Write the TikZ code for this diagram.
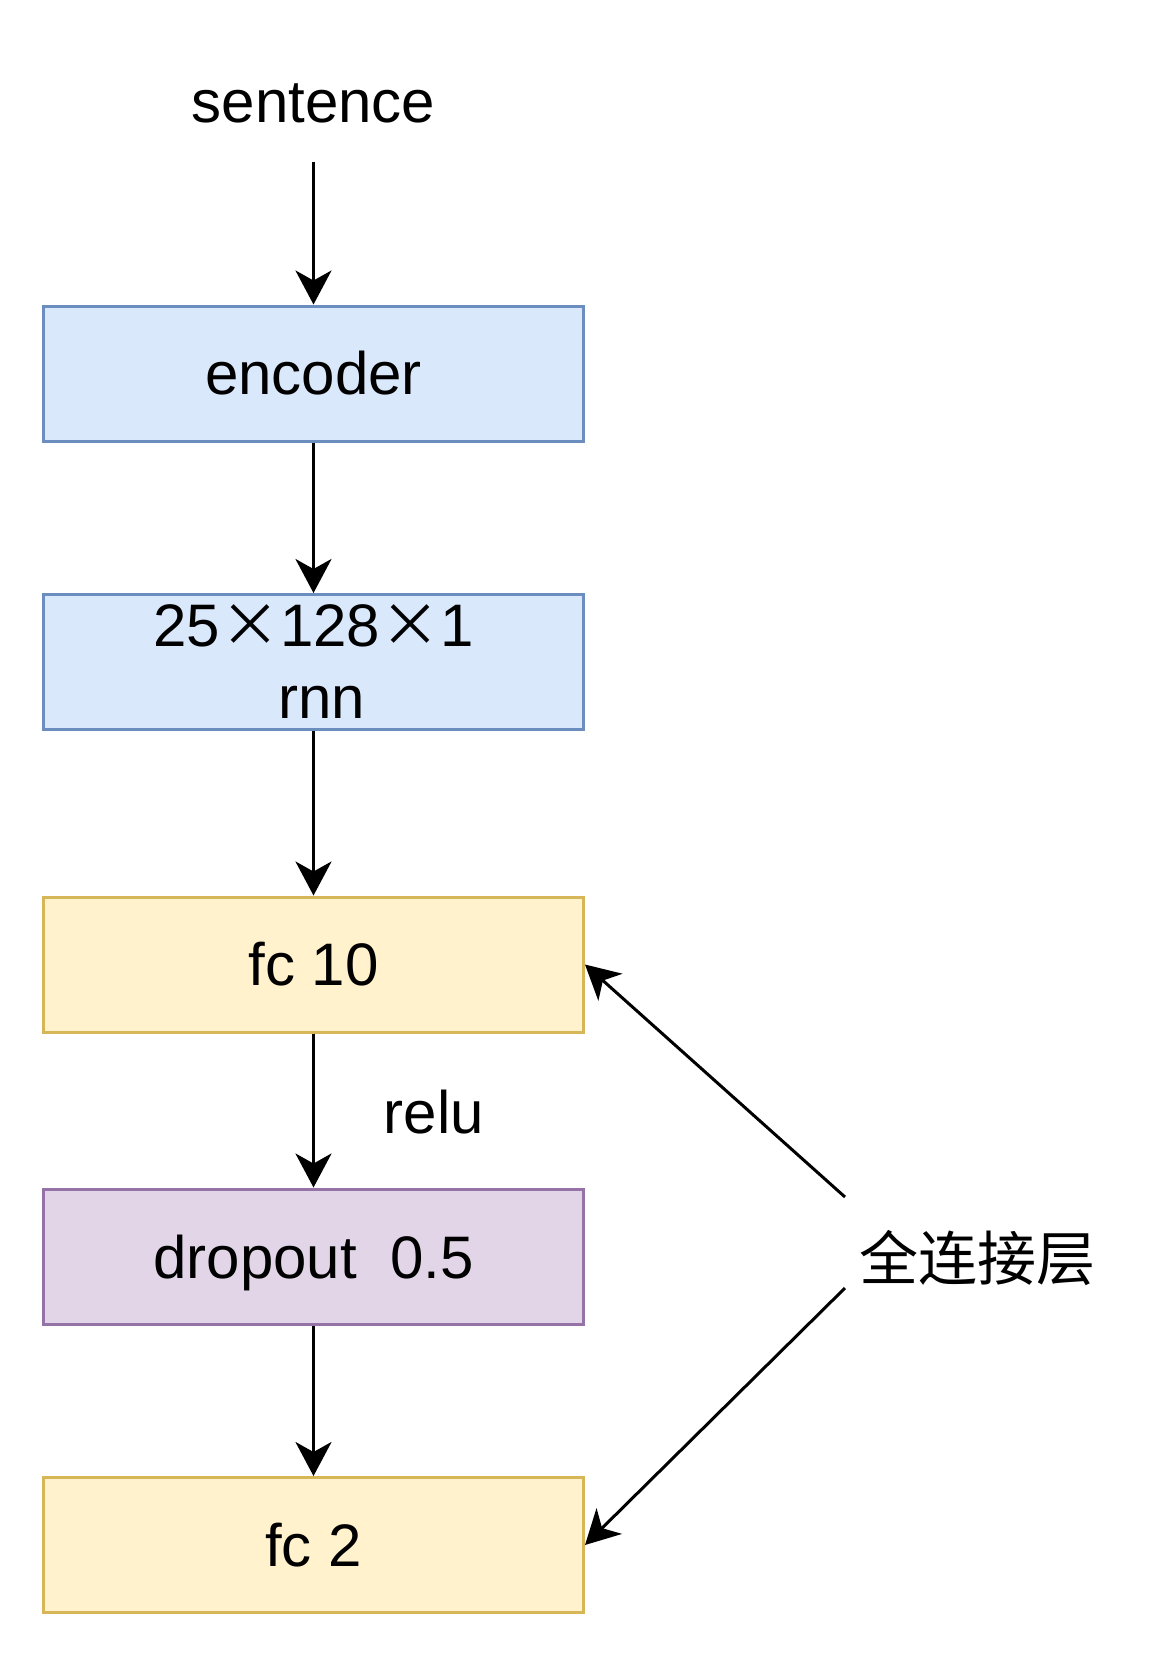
\documentclass[tikz,border=0pt]{standalone}
\usepackage{fontspec}
\setmainfont{Liberation Sans}
\newfontfamily\cjk{Noto Sans CJK SC}
\usepackage{tikz}
\usetikzlibrary{arrows.meta}
\definecolor{bluefill}{HTML}{DAE8FC}
\definecolor{bluedraw}{HTML}{6C8EBF}
\definecolor{yellowfill}{HTML}{FFF2CC}
\definecolor{yellowdraw}{HTML}{D6B656}
\definecolor{purplefill}{HTML}{E1D5E7}
\definecolor{purpledraw}{HTML}{9673A6}
\newcommand{\cross}{{\cjk ×}}

\begin{document}
\begin{tikzpicture}[x=0.5pt,y=-0.5pt,
    font=\fontsize{30}{36}\selectfont,
    layer/.style={rectangle,line width=1.5pt,minimum width=270pt,minimum height=67.5pt,
      inner sep=0pt,align=center},
    bluebox/.style={layer,draw=bluedraw,fill=bluefill},
    fcbox/.style={layer,draw=yellowdraw,fill=yellowfill},
    dropbox/.style={layer,draw=purpledraw,fill=purplefill},
    flow/.style={-{Stealth[length=17pt,width=18pt,inset=5pt]},line width=1.5pt}]
        \useasboundingbox (0,0) rectangle (1156,1656);
        \node[minimum height=58pt,inner sep=0pt] (sentence) at (313.5,103.5) {sentence};
        \node[bluebox] (encoder) at (313.5,373.5) {encoder};
        \node[bluebox] (rnn) at (313.5,662) {25\cross128\cross1\\\hspace*{8pt}rnn};
        \node[fcbox] (fc10) at (313.5,964.5) {fc 10};
        \node[dropbox,text depth=0pt] (dropout) at (313.5,1256.5) {dropout\ \ 0.5};
        \node[fcbox] (fc2) at (313.5,1545) {fc 2};
        \node (relu) at (434,1112) {relu};
        \node (fullconn) at (977,1258) {\cjk\fontsize{29.5}{36}\selectfont 全连接层};
        \coordinate (fullup) at (845,1197);
        \coordinate (fulldown) at (845,1288);
        % main path
        \draw[flow] (sentence) -- (encoder);
        \draw[flow] (encoder) -- (rnn);
        \draw[flow] (rnn) -- (fc10);
        \draw[flow] (fc10) -- (dropout);
        \draw[flow] (dropout) -- (fc2);
        % fully connected layers
        \draw[flow] (fullup) -- (fc10.east);
        \draw[flow] (fulldown) -- (fc2.east);
      \end{tikzpicture}
\end{document}
